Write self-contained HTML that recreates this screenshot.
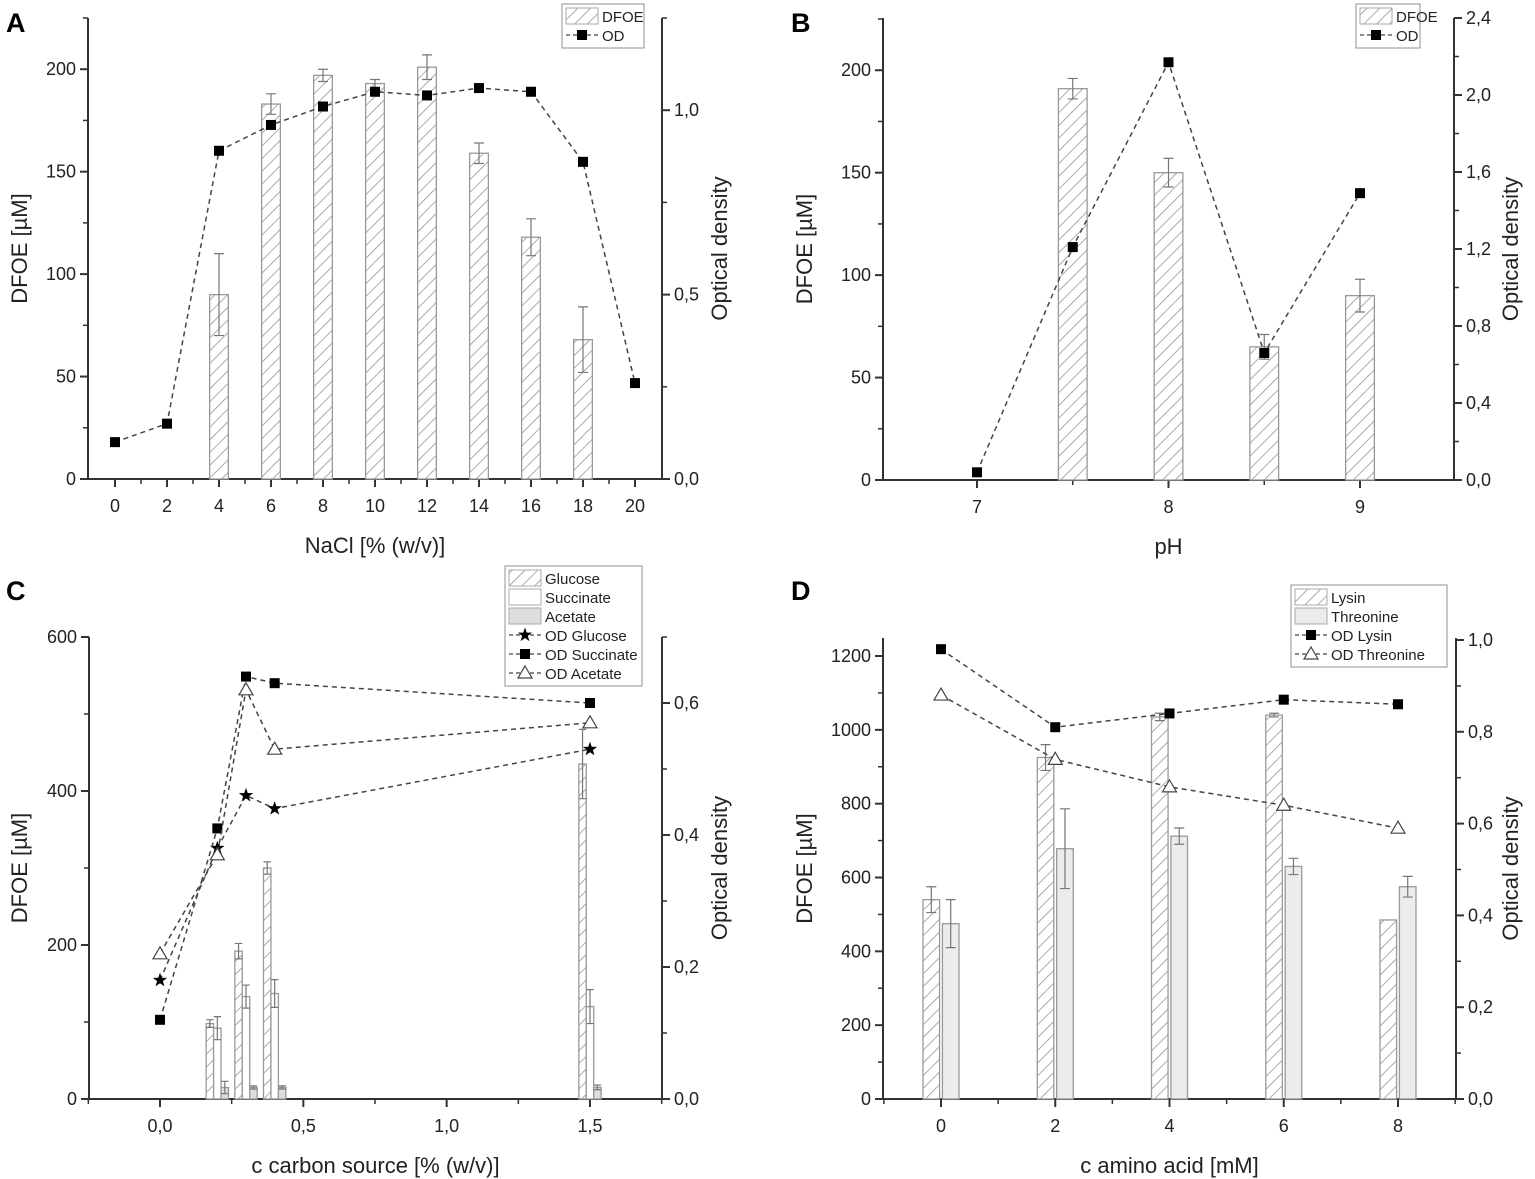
<!DOCTYPE html>
<html><head><meta charset="utf-8">
<style>
html,body{margin:0;padding:0;background:#fff;}
svg{display:block;font-family:"Liberation Sans",Arial,sans-serif;}
</style></head>
<body>
<svg id="fig" width="1535" height="1179" viewBox="0 0 1535 1179" xmlns="http://www.w3.org/2000/svg">
<defs>
<pattern id="hatch" patternUnits="userSpaceOnUse" width="9" height="9" patternTransform="rotate(45)">
<rect width="9" height="9" fill="#fff"/>
<line x1="0" y1="0" x2="0" y2="9" stroke="#888" stroke-width="1.4"/>
</pattern>
</defs>
<text x="6" y="32" font-size="27" font-weight="bold">A</text>
<text x="791" y="32" font-size="27" font-weight="bold">B</text>
<text x="6" y="600" font-size="27" font-weight="bold">C</text>
<text x="791" y="600" font-size="27" font-weight="bold">D</text>
</svg>
<script>
// ---- Panel A data ----
const aNaCl = [0,2,4,6,8,10,12,14,16,18,20];
const aBarX = [4,6,8,10,12,14,16,18];
const aDFOE = [90,183,197,193,201,159,118,68];
const aDFOEerr = [20,5,3,2,6,5,9,16];
const aOD = [0.10,0.15,0.89,0.96,1.01,1.05,1.04,1.06,1.05,0.86,0.26];
const aXTicks = [0,2,4,6,8,10,12,14,16,18,20];
const aYTicks = [0,50,100,150,200];
const aRTicks = [0,0.5,1.0];
const aRLabels = ["0,0","0,5","1,0"];
// ---- Panel B data ----
const bBarX = [7.5,8,8.5,9];
const bDFOE = [191,150,65,90];
const bDFOEerr = [5,7,6,8];
const bODX = [7,7.5,8,8.5,9];
const bOD = [0.04,1.21,2.17,0.66,1.49];
const bXTicks = [7,8,9];
const bYTicks = [0,50,100,150,200];
const bRTicks = [0,0.4,0.8,1.2,1.6,2.0,2.4];
const bRLabels = ["0,0","0,4","0,8","1,2","1,6","2,0","2,4"];
// ---- Panel C data ----
const cBarX = [0.2,0.3,0.4,1.5];
const cGlucose = [98,192,300,435];
const cGlucoseErr = [5,10,8,45];
const cSuccinate = [92,133,137,120];
const cSuccinateErr = [15,15,18,22];
const cAcetate = [15,15,15,15];
const cAcetateErr = [8,2,2,3];
const cODX = [0,0.2,0.3,0.4,1.5];
const cODGlucose = [0.18,0.38,0.46,0.44,0.53];
const cODSuccinate = [0.12,0.41,0.64,0.63,0.60];
const cODAcetate = [0.22,0.37,0.62,0.53,0.57];
const cXTicks = [0,0.5,1.0,1.5];
const cXLabels = ["0,0","0,5","1,0","1,5"];
const cYTicks = [0,200,400,600];
const cRTicks = [0,0.2,0.4,0.6];
const cRLabels = ["0,0","0,2","0,4","0,6"];
// ---- Panel D data ----
const dX = [0,2,4,6,8];
const dLysin = [540,925,1035,1040,485];
const dLysinErr = [35,35,10,5,0];
const dThreonine = [475,678,712,630,575];
const dThreonineErr = [65,108,22,22,28];
const dODLysin = [0.98,0.81,0.84,0.87,0.86];
const dODThreonine = [0.88,0.74,0.68,0.64,0.59];
const dXTicks = [0,2,4,6,8];
const dYTicks = [0,200,400,600,800,1000,1200];
const dRTicks = [0,0.2,0.4,0.6,0.8,1.0];
const dRLabels = ["0,0","0,2","0,4","0,6","0,8","1,0"];

const svg = document.getElementById('fig');
const NS = 'http://www.w3.org/2000/svg';
function el(tag, attrs, parent){const e=document.createElementNS(NS,tag);for(const k in attrs)e.setAttribute(k,attrs[k]);(parent||svg).appendChild(e);return e;}
function lin(d0,d1,r0,r1){return v=>r0+(v-d0)*(r1-r0)/(d1-d0);}

function axes(p){
  const g=el('g',{});
  
  
  const st={stroke:'#333','stroke-width':2,fill:'none'};
  el('line',Object.assign({x1:p.L,y1:p.B,x2:p.R,y2:p.B},st),g);
  el('line',Object.assign({x1:p.L,y1:p.T,x2:p.L,y2:p.B},st),g);
  el('line',Object.assign({x1:p.R,y1:p.T,x2:p.R,y2:p.B},st),g);
  // x ticks
  p.xt.forEach((v,i)=>{const x=p.sx(v);el('line',{x1:x,y1:p.B,x2:x,y2:p.B+8,stroke:'#333','stroke-width':2},g);
    const t=el('text',{x:x,y:p.B+33,'font-size':18,'text-anchor':'middle',fill:'#222'},g);t.textContent=p.xl?p.xl[i]:v;
    });
  (p.xm||[]).forEach(v=>{const x=p.sx(v);el('line',{x1:x,y1:p.B,x2:x,y2:p.B+5,stroke:'#333','stroke-width':1.5},g);});
  p.yt.forEach(v=>{const y=p.sy(v);el('line',{x1:p.L-8,y1:y,x2:p.L,y2:y,stroke:'#333','stroke-width':2},g);
    const t=el('text',{x:p.L-12,y:y+6,'font-size':18,'text-anchor':'end',fill:'#222'},g);t.textContent=v;
    });
  (p.ym||[]).forEach(v=>{const y=p.sy(v);el('line',{x1:p.L-5,y1:y,x2:p.L,y2:y,stroke:'#333','stroke-width':1.5},g);});
  p.rt.forEach((v,i)=>{const y=p.sr(v);el('line',{x1:p.R,y1:y,x2:p.R+8,y2:y,stroke:'#333','stroke-width':2},g);
    const t=el('text',{x:p.R+12,y:y+6,'font-size':18,fill:'#222'},g);t.textContent=p.rl[i];
    });
  (p.rm||[]).forEach(v=>{const y=p.sr(v);el('line',{x1:p.R,y1:y,x2:p.R+5,y2:y,stroke:'#333','stroke-width':1.5},g);});
  const xt=el('text',{x:(p.L+p.R)/2,y:p.B+74,'font-size':22,'text-anchor':'middle',fill:'#222'},g);xt.textContent=p.xtitle;
  
  const cy=(p.T+p.B)/2;
  const yt=el('text',{x:p.ytx,y:cy,'font-size':22,'text-anchor':'middle',fill:'#222',transform:`rotate(-90 ${p.ytx} ${cy})`},g);yt.textContent='DFOE [µM]';
  
  const rt=el('text',{x:p.rtx,y:cy,'font-size':22,'text-anchor':'middle',fill:'#222',transform:`rotate(-90 ${p.rtx} ${cy})`},g);rt.textContent='Optical density';
  
}
function bars(p,xs,vals,errs,off,wu,fill,name){
  xs.forEach((xv,i)=>{
    const x0=p.sx(xv+off-wu/2),x1=p.sx(xv+off+wu/2),y=p.sy(vals[i]);
    const r=el('rect',{x:x0,y:y,width:x1-x0,height:p.B-y,fill:fill,stroke:'#999','stroke-width':1.3});
    
    
    if(errs[i]>0){const cx=(x0+x1)/2,ya=p.sy(vals[i]+errs[i]),yb=p.sy(vals[i]-errs[i]),c=Math.min(5,(x1-x0)/2);
      el('path',{d:`M${cx},${ya}V${yb}M${cx-c},${ya}H${cx+c}M${cx-c},${yb}H${cx+c}`,stroke:'#777','stroke-width':1.2,fill:'none'});}
  });
}
function marker(type,x,y,g){
  if(type==='sq') return el('rect',{x:x-5,y:y-5,width:10,height:10,fill:'#000'},g);
  if(type==='tri') return el('path',{d:`M${x},${y-7}L${x+7},${y+5}L${x-7},${y+5}Z`,fill:'#fff',stroke:'#444','stroke-width':1.2},g);
  let d='';for(let k=0;k<10;k++){const a=-Math.PI/2+k*Math.PI/5,r=k%2?3:7.5;d+=(k?'L':'M')+(x+r*Math.cos(a))+','+(y+r*Math.sin(a));}
  return el('path',{d:d+'Z',fill:'#000'},g);
}
function series(p,xs,ys,type,name){
  const g=el('g',{});
  
  
  el('polyline',{points:xs.map((v,i)=>p.sx(v)+','+p.sr(ys[i])).join(' '),fill:'none',stroke:'#444','stroke-width':1.5,'stroke-dasharray':'5,4'},g);
  xs.forEach((v,i)=>{const m=marker(type,p.sx(v),p.sr(ys[i]),g);
    
    });
}
function legend(x,y,w,items,name){
  const g=el('g',{});
  
  
  el('rect',{x:x,y:y,width:w,height:items.length*19+6,fill:'#fff',stroke:'#aaa','stroke-width':1.3},g);
  items.forEach((it,i)=>{const yy=y+4+i*19;
    if(it.fill) el('rect',{x:x+4,y:yy,width:32,height:16,fill:it.fill,stroke:'#aaa','stroke-width':1},g);
    else {el('line',{x1:x+4,y1:yy+8,x2:x+36,y2:yy+8,stroke:'#444','stroke-width':1.3,'stroke-dasharray':'4,3'},g);marker(it.m,x+20,yy+8,g);}
    const t=el('text',{x:x+40,y:yy+14,'font-size':15,fill:'#222'},g);t.textContent=it.t;
    });
}
const H='url(#hatch)';
// Panel A
{const p={name:'panel-a',L:88,R:662,T:18,B:479};
 p.sx=lin(-1.75,20.3,p.L,p.R);p.sx=lin(0,20,115,635);p.sy=lin(0,225,p.B,p.T);p.sr=lin(0,1.25,p.B,p.T);
 p.xt=aXTicks;p.xm=[1,3,5,7,9,11,13,15,17,19];p.yt=aYTicks;p.ym=[25,75,125,175,225];p.rt=aRTicks;p.rl=aRLabels;p.rm=[0.25,0.75,1.25];
 p.xtitle='NaCl [% (w/v)]';p.ytx=27;p.rtx=727;
 axes(p);bars(p,aBarX,aDFOE,aDFOEerr,0,0.72,H,'bar-dfoe');series(p,aNaCl,aOD,'sq','od-line');
 legend(562,4,82,[{fill:H,t:'DFOE'},{m:'sq',t:'OD'}],'legend-a');}
// Panel B
{const p={name:'panel-b',L:883,R:1454,T:18,B:480};
 p.sx=lin(7,9,977,1360);p.sy=lin(0,225.5,p.B,p.T);p.sr=lin(0,2.4,p.B,p.T);
 p.xt=bXTicks;p.xm=[7.5,8.5];p.yt=bYTicks;p.ym=[25,75,125,175,225];p.rt=bRTicks;p.rl=bRLabels;p.rm=[0.2,0.6,1.0,1.4,1.8,2.2];
 p.xtitle='pH';p.ytx=812;p.rtx=1518;
 axes(p);bars(p,bBarX,bDFOE,bDFOEerr,0,0.15,H,'bar-dfoe');series(p,bODX,bOD,'sq','od-line');
 legend(1356,4,64,[{fill:H,t:'DFOE'},{m:'sq',t:'OD'}],'legend-b');}
// Panel C
{const p={name:'panel-c',L:89,R:662,T:637,B:1099};
 p.sx=lin(0,1.5,160,590);p.sy=lin(0,600,p.B,p.T);p.sr=lin(0,0.7,p.B,p.T);
 p.xt=cXTicks;p.xl=cXLabels;p.xm=[-0.25,0.25,0.75,1.25,1.75];p.yt=cYTicks;p.ym=[100,300,500];p.rt=cRTicks;p.rl=cRLabels;p.rm=[0.1,0.3,0.5,0.7];
 p.xtitle='c carbon source [% (w/v)]';p.ytx=27;p.rtx=727;
 axes(p);
 bars(p,cBarX,cGlucose,cGlucoseErr,-0.026,0.026,H,'bar-glucose');
 bars(p,cBarX,cSuccinate,cSuccinateErr,0,0.026,'#fff','bar-succinate');
 bars(p,cBarX,cAcetate,cAcetateErr,0.026,0.026,'#ddd','bar-acetate');
 series(p,cODX,cODGlucose,'star','od-glucose-line');series(p,cODX,cODSuccinate,'sq','od-succinate-line');series(p,cODX,cODAcetate,'tri','od-acetate-line');
 legend(505,566,137,[{fill:H,t:'Glucose'},{fill:'#fff',t:'Succinate'},{fill:'#ddd',t:'Acetate'},{m:'star',t:'OD Glucose'},{m:'sq',t:'OD Succinate'},{m:'tri',t:'OD Acetate'}],'legend-c');}
// Panel D
{const p={name:'panel-d',L:883,R:1456,T:638,B:1099};
 p.sx=lin(0,8,941,1398);p.sy=lin(0,1200,p.B,656);p.sr=lin(0,1.0,p.B,640);
 p.xt=dXTicks;p.xm=[-1,1,3,5,7,9];p.yt=dYTicks;p.ym=[100,300,500,700,900,1100];p.rt=dRTicks;p.rl=dRLabels;p.rm=[0.1,0.3,0.5,0.7,0.9];
 p.xtitle='c amino acid [mM]';p.ytx=812;p.rtx=1518;
 axes(p);
 bars(p,dX,dLysin,dLysinErr,-0.17,0.29,H,'bar-lysin');
 bars(p,dX,dThreonine,dThreonineErr,0.17,0.29,'#ececec','bar-threonine');
 series(p,dX,dODLysin,'sq','od-lysin-line');series(p,dX,dODThreonine,'tri','od-threonine-line');
 legend(1291,585,156,[{fill:H,t:'Lysin'},{fill:'#ececec',t:'Threonine'},{m:'sq',t:'OD Lysin'},{m:'tri',t:'OD Threonine'}],'legend-d');}
</script>
</body></html>
